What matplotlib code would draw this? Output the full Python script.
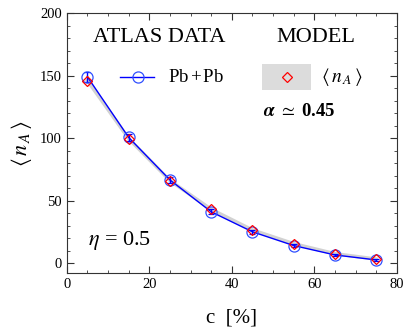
import matplotlib.pyplot as plt
from matplotlib.ticker import MultipleLocator
from matplotlib.patches import Rectangle
from matplotlib.lines import Line2D

plt.rcParams['font.family'] = 'Liberation Serif'
plt.rcParams['mathtext.fontset'] = 'stix'

# centrality bins [%]
cent = [5, 15, 25, 35, 45, 55, 65, 75]
# ATLAS Pb+Pb <n_A>
data_na = [149, 100.5, 66.5, 41, 25, 14, 6.5, 2.5]
data_err = [4, 3, 2.5, 2, 1.5, 1.2, 1.0, 0.8]
# model <n_A>, alpha ~ 0.45
model_na = [146, 99.5, 66, 43, 26.5, 15.5, 7.5, 3.2]

fig = plt.figure(figsize=(4.05, 3.29), dpi=100)
ax = fig.add_axes([0.165, 0.170, 0.815, 0.790])

ax.plot(cent, model_na, color='#d2d2d2', lw=2.5, zorder=1)
ax.errorbar(cent, data_na, yerr=data_err, color='blue', lw=1.0, capsize=2,
            marker='o', ms=8, mfc='none', mec='#3050ff', mew=0.9, zorder=3)
ax.plot(cent, model_na, ls='none', marker='D', ms=5, mfc='none',
        mec='red', mew=0.9, zorder=4)

ax.set_xlim(0, 80)
ax.set_ylim(-8, 200)
ax.xaxis.set_major_locator(MultipleLocator(20))
ax.xaxis.set_minor_locator(MultipleLocator(5))
ax.yaxis.set_major_locator(MultipleLocator(50))
ax.yaxis.set_minor_locator(MultipleLocator(10))
ax.tick_params(which='both', direction='in', top=True, right=True,
               labelsize=10.5, color='#333333')
ax.tick_params(which='major', length=5)
ax.tick_params(which='minor', length=2.5)
for s in ax.spines.values():
    s.set_color('#333333')

ax.set_xlabel('c  [%]', fontsize=15, labelpad=13)
ax.set_ylabel(r'$\langle\, n_{\,A} \,\rangle$', fontsize=16, labelpad=4)

# header + hand made legend
ax.text(0.28, 0.905, 'ATLAS DATA', transform=ax.transAxes, fontsize=16,
        ha='center', va='center')
ax.text(0.755, 0.905, 'MODEL', transform=ax.transAxes, fontsize=16,
        ha='center', va='center')

ax.add_line(Line2D([0.162, 0.265], [0.753, 0.753], transform=ax.transAxes,
                   color='blue', lw=1.0))
ax.add_line(Line2D([0.215], [0.753], transform=ax.transAxes, marker='o',
                   ms=8, mfc='none', mec='#3050ff', mew=0.9))
ax.text(0.306, 0.753, 'Pb$\\,$+$\\,$Pb', transform=ax.transAxes, fontsize=13.5,
        ha='left', va='center')
ax.add_patch(Rectangle((0.59, 0.703), 0.15, 0.1, transform=ax.transAxes,
                       color='#dcdcdc', lw=0))
ax.add_line(Line2D([0.667], [0.753], transform=ax.transAxes, marker='D',
                   ms=5.5, mfc='none', mec='red', mew=0.9))
ax.text(0.77, 0.753, r'$\langle\, n_{\,A} \,\rangle$', transform=ax.transAxes,
        fontsize=14, ha='left', va='center')
ax.text(0.595, 0.62, r'$\boldsymbol{\alpha}$ $\simeq$ 0.45', transform=ax.transAxes,
        fontsize=13.5, fontweight='bold', ha='left', va='center')
ax.text(0.065, 0.127, r'$\eta$ = 0.5', transform=ax.transAxes, fontsize=16,
        ha='left', va='center')

fig.savefig('out.png', dpi=100)
